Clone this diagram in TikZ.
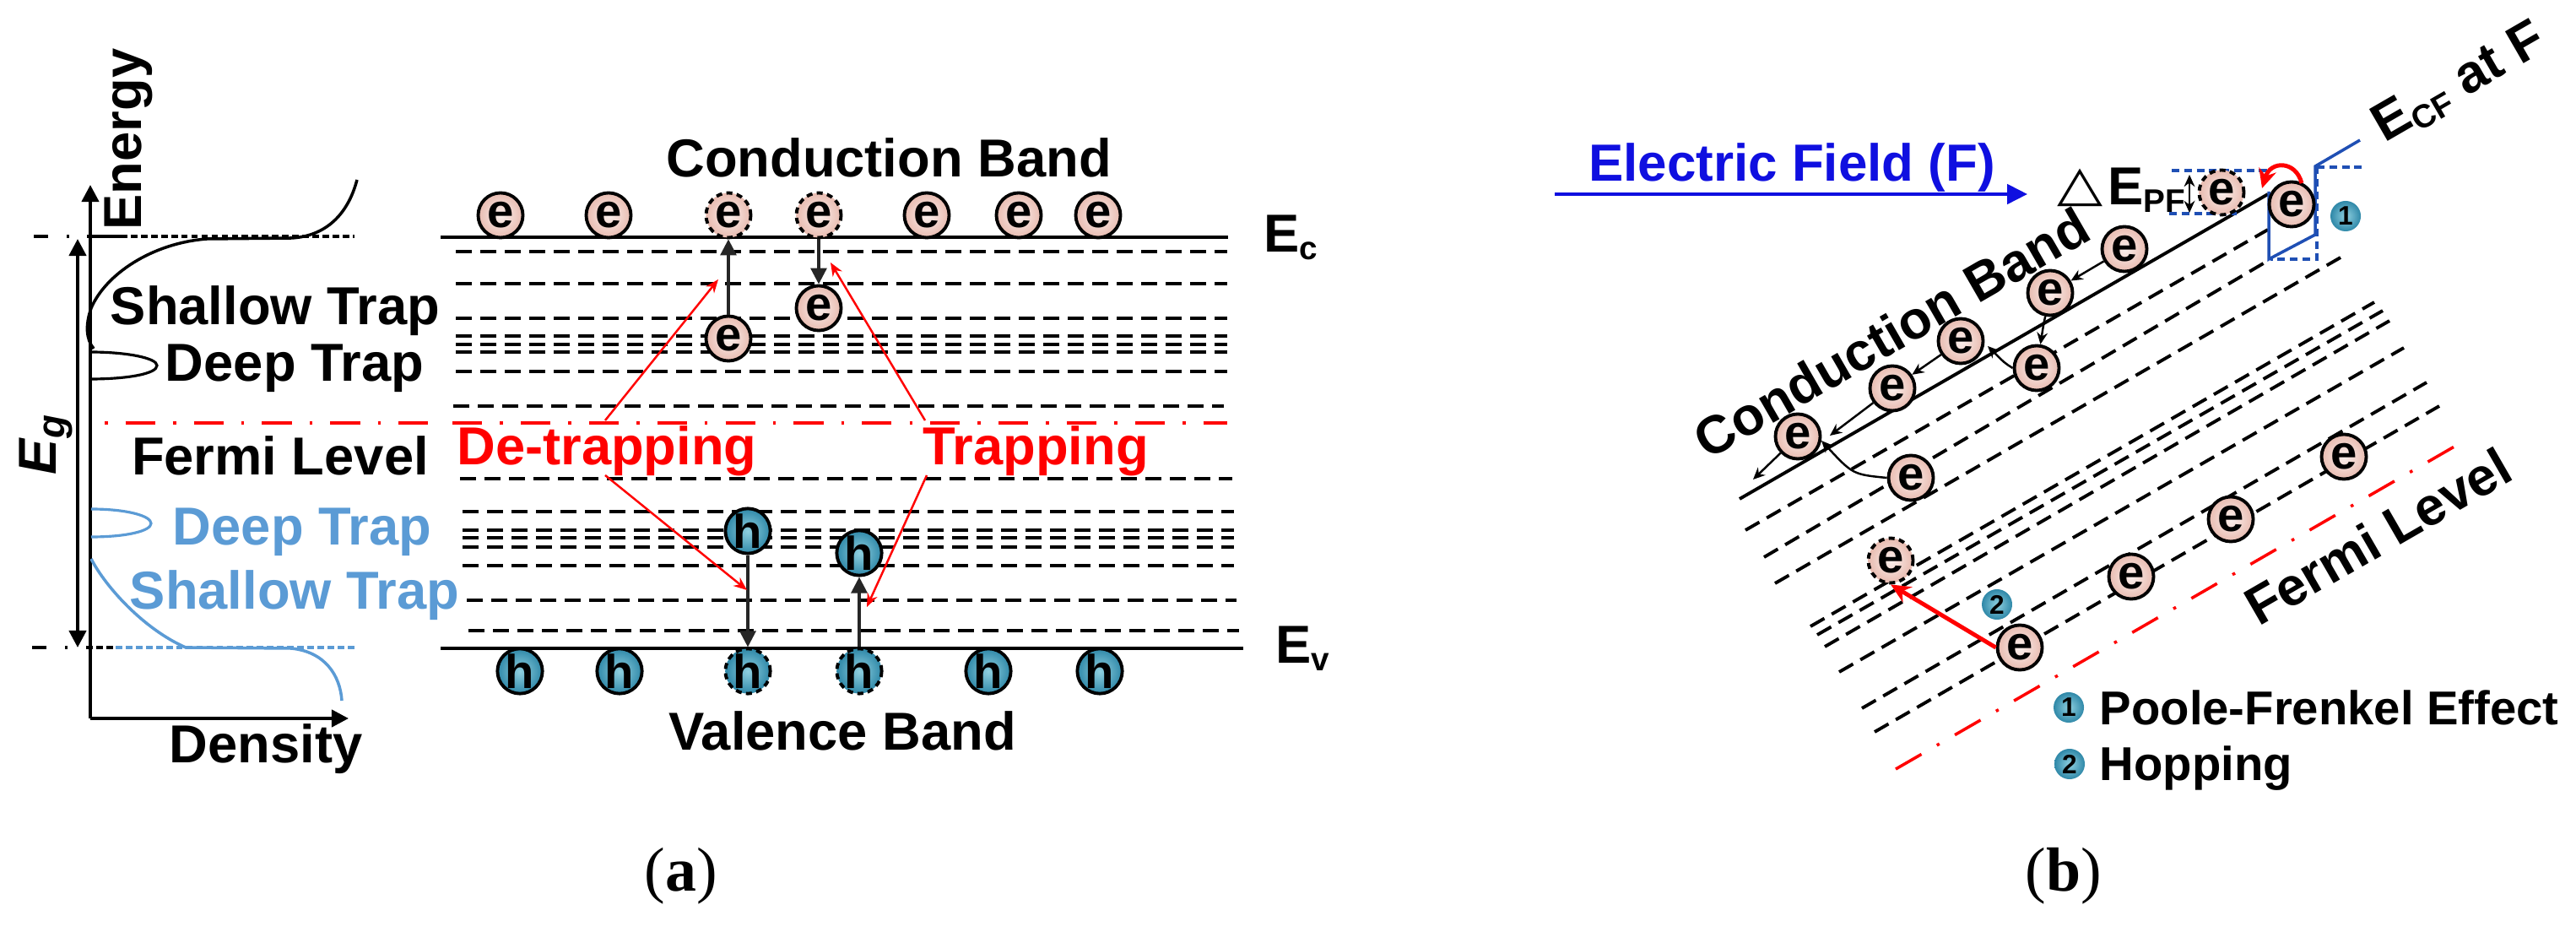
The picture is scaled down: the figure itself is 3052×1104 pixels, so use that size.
\documentclass[tikz,border=0pt]{standalone}
\usepackage{fontspec}
\setmainfont{Liberation Sans}
\newfontfamily\serifcap{Liberation Serif}
\newfontfamily\symfont{DejaVu Sans}
\usepackage{xcolor}
\usepackage{graphicx}
\usetikzlibrary{arrows.meta}
\definecolor{trapblue}{HTML}{5B9BD5}
\definecolor{fieldblue}{HTML}{0F0FE0}
\definecolor{wellblue}{HTML}{1F4FB4}
\definecolor{elecin}{HTML}{FBF0ED}
\definecolor{elecout}{HTML}{E8BBB0}
\definecolor{holein}{HTML}{8FD0E0}
\definecolor{holeout}{HTML}{2F88A8}
\newcommand{\subtext}[2][-2.5pt]{\raisebox{#1}{\fontsize{11}{11}\selectfont #2}}
\tikzset{lab/.style={font=\fontsize{18}{20}\selectfont\bfseries,inner sep=0pt,anchor=base},
    bluelab/.style={lab,text=trapblue},
    redlab/.style={lab,text=red},
    caplab/.style={font=\fontsize{21}{24}\selectfont\serifcap,inner sep=0pt},
    leglab/.style={lab,font=\fontsize{16}{18}\selectfont\bfseries,anchor=base west},
    elec/.style={circle,draw,line width=1.1pt,minimum size=0.53cm,inner sep=0pt,
        inner color=elecin,outer color=elecout,font=\fontsize{16}{16}\selectfont\bfseries},
    elecdash/.style={elec,dash pattern=on 2pt off 1.5pt},
    hole/.style={elec,inner color=holein,outer color=holeout},
    holedash/.style={hole,dash pattern=on 2pt off 1.5pt},
    badge/.style={circle,minimum size=0.36cm,inner sep=0pt,
        inner color=holein,outer color=holeout,font=\fontsize{9}{9}\selectfont\bfseries},
    level/.style={line width=1.1pt,dash pattern=on 5.4pt off 2.85pt},
    band/.style={line width=1.1pt},
    axis/.style={line width=1.2pt,-{Triangle[length=5.7pt,width=5.7pt]}},
    gaparrow/.style={line width=1.2pt,{Triangle[length=5.7pt,width=5.7pt]}-{Triangle[length=5.7pt,width=5.7pt]}},
    jump/.style={line width=0.9pt,draw=black!85,-{Triangle[length=5.4pt,width=5.4pt]}},
    redjump/.style={line width=0.7pt,red,-{Stealth[length=4.5pt,width=3.6pt]}},
    hopjump/.style={line width=0.7pt,-{Stealth[length=4pt,width=3.6pt]}},
    fermi/.style={red,line width=1pt,dash pattern=on 10pt off 6pt on 1pt off 6pt},
    edgeline/.style={line width=1pt,dash pattern=on 4.8pt off 6.4pt on 0.8pt off 6.4pt},
    fine/.style={line width=1pt,dash pattern=on 2.2pt off 1.2pt},
    well/.style={wellblue,line width=1pt},
    welldash/.style={wellblue,line width=1pt,dash pattern=on 2.6pt off 1.6pt}}

\begin{document}
\begin{tikzpicture}[x=0.01cm,y=-0.01cm]
\useasboundingbox (0,0) rectangle (3052,1104);
\fill[white] (0,0) rectangle (3052,1104);

\draw[axis] (107,851) -- (107,219);
\draw[axis] (107,851) -- (413,851);
\draw[gaparrow] (92,283) -- (92,767);
\draw[edgeline] (40,280) -- (103,280);
\draw[line width=1pt] (103,280) -- (143,280);
\draw[fine] (143,280) -- (420,280);
\draw[edgeline] (38,767) -- (102,767);
\draw[fine] (102,767) -- (137,767);
\draw[fine,trapblue] (137,767) -- (420,767);
\draw[line width=1pt] (423,213) .. controls (412,255) and (385,280) .. (345,282)
    -- (245,283) .. controls (180,288) and (125,325) .. (108,365)
    .. controls (101,385) and (102,402) .. (111,413);
\draw[line width=0.9pt] (107,417) .. controls (150,417) and (186,424) .. (186,433)
    .. controls (186,443) and (150,449) .. (107,449);
\draw[trapblue,line width=0.9pt] (108,603) .. controls (150,603) and (179,611) .. (179,620)
    .. controls (179,629) and (150,636) .. (108,636);
\draw[trapblue,line width=1pt] (108,662) .. controls (125,695) and (170,745) .. (220,767)
    -- (345,768) .. controls (385,772) and (403,800) .. (405,830);
\node[lab,rotate=90] (energy) at (167,165) {Energy};
\node[lab,rotate=90] (eg) at (66,527) {\itshape E\subtext[-3pt]{\fontsize{13}{13}\selectfont g}};
\node[lab] (shallowa) at (326,385) {Shallow Trap};
\node[lab] (deepa) at (349,452) {Deep Trap};
\node[lab] (fermia) at (332,563) {Fermi Level};
\node[bluelab] (deepb) at (358,646) {Deep Trap};
\node[bluelab] (shallowb) at (349,722) {Shallow Trap};
\node[lab] (density) at (315,903) {Density};

\draw[band] (522,281) -- (1455,281);
\draw[band] (522,768) -- (1473,768);
\foreach \y/\xa/\xb in {298/540/1454,336/540/1454,377/540/1454,398/540/1454,408/540/1454,
    417/540/1454,440/540/1454,481/537/1450,
    567/545/1460,606/548/1462,628/548/1462,637/548/1462,648/548/1462,670/548/1462,
    711/553/1465,747/555/1468}
    \draw[level] (\xa,\y) -- (\xb,\y);
\draw[fermi,dash phase=15.4pt] (122,501) -- (520,501);
\draw[fermi] (536,501) -- (1454,501);

\foreach \n/\x in {a/593,b/721,e/1098,f/1207,g/1301}
    \node[elec] (top\n) at (\x,255) {e};
\node[elecdash] (topc) at (863,255) {e};
\node[elecdash] (topd) at (970,255) {e};
\node[elec] (trapc) at (863,401) {e};
\node[elec] (trapd) at (970,365) {e};
\foreach \n/\x in {a/616,b/734,e/1171,f/1303}
    \node[hole] (low\n) at (\x,795) {h};
\node[holedash] (lowc) at (886,795) {h};
\node[holedash] (lowd) at (1018,795) {h};
\node[hole] (trapg) at (886,629) {h};
\node[hole] (traph) at (1018,655) {h};
\draw[jump] (trapc) -- (topc);
\draw[jump] (topd) -- (trapd);
\draw[jump] (trapg) -- (lowc);
\draw[jump] (lowd) -- (traph);

\node[redlab] (detrap) at (719,551) {De-trapping};
\node[redlab] (trapping) at (1227,551) {Trapping};
\draw[redjump] (717,498) -- (851,331);
\draw[redjump] (717,563) -- (885,699);
\draw[redjump] (1096,498) -- (984,311);
\draw[redjump] (1098,563) -- (1027,719);
\node[lab] (cbanda) at (1053,210) {Conduction Band};
\node[lab] (vbanda) at (998,888) {Valence Band};
\node[lab,anchor=base west] (ec) at (1497,299) {E\subtext{c}};
\node[lab,anchor=base west] (ev) at (1511,786) {E\subtext{v}};
\node[caplab] (capa) at (807,1038) {(\textbf{a})};

\draw[fieldblue,line width=1.1pt,-{Triangle[length=6.8pt,width=6.6pt]}] (1842,230) -- (2402,230);
\node[lab,text=fieldblue,font=\fontsize{17.6}{20}\selectfont\bfseries] (field) at (2123,215) {Electric Field (F)};
\node[lab,anchor=base west] (depf) at (2437,243) {\raisebox{1.5pt}{\scalebox{1}[.83]{\symfont\mdseries\fontsize{20}{20}\selectfont △}}\hspace{1.5pt}E\subtext{PF}};

\draw[band] (2061,591) -- (2687,230);
\foreach \xa/\ya/\xb/\yb in {2068/628/2687/272,2090/660/2685/310,2103/691/2773/305,
    2145/742/2813/358,2153/752/2823/368,2162/766/2831/380,
    2179/796/2848/412,2206/839/2875/453,2221/867/2890/481}
    \draw[level] (\xa,\ya) -- (\xb,\yb);
\draw[fermi] (2246,911) -- (2913,526);

\draw[welldash] (2573,202) -- (2687,202);
\draw[welldash] (2570,253) -- (2650,253);
\draw[welldash] (2745,198) -- (2798,198);
\draw[welldash] (2745,197) -- (2745,307) -- (2690,307);
\draw[well] (2688,227) -- (2688,307) -- (2743,278) -- (2743,197) -- (2796,166);

\foreach \n/\x/\y in {a/2130/517,b/2242/460,c/2323/404,d/2429/347,e/2517/295,
    f/2413/436,g/2264/566,h/2715/242,i/2393/767,j/2525/683,k/2643/615,l/2777/541}
    \node[elec] (ef\n) at (\x,\y) {e};
\node[elecdash] (efm) at (2632,228) {e};
\node[elecdash] (efn) at (2240,664) {e};

\coordinate (tipb) at (2168,516);
\coordinate (tipa) at (2077,568);
\coordinate (tipc) at (2355,410);
\coordinate (tipd) at (2158,522);
\draw[hopjump] (efe) -- (efd);
\draw[hopjump] (efd) .. controls (2421,385) .. (eff);
\draw[hopjump] (efc) -- (efb);
\draw[hopjump] (efb) -- (tipb);
\draw[hopjump] (efa) -- (tipa);
\draw[hopjump] (eff.west) .. controls (2375,430) .. (tipc);
\draw[hopjump] (efg.west) .. controls (2195,562) .. (tipd);
\draw[line width=0.7pt,{Stealth[length=4pt,width=3.6pt]}-{Stealth[length=4pt,width=3.6pt]}] (2594,207) -- (2594,252);
\draw[red,line width=1.4pt,-{Stealth[length=6.4pt,width=6pt]}] (2727,217) .. controls (2720,190) and (2690,190) .. (2680,223);
\draw[red,line width=1.4pt,-{Stealth[length=6.6pt,width=6pt]}] (efi.west) -- (efn.south);

\node[badge] (onea) at (2779,256) {1};
\node[badge] (twoa) at (2366,716) {2};
\node[badge] (oneb) at (2451,838) {1};
\node[badge] (twob) at (2452,905) {2};
\node[leglab] (poole) at (2487,858) {Poole-Frenkel Effect};
\node[leglab] (hop) at (2487,925) {Hopping};
\node[lab,anchor=center,rotate=30] (cbandb) at (2241,394) {Conduction Band};
\node[lab,anchor=center,rotate=30] (fermib) at (2817,635) {Fermi Level};
\node[lab,anchor=center,rotate=30] (ecf) at (2914,99) {E\subtext{CF} at F};
\node[caplab] (capb) at (2445,1038) {(\textbf{b})};
\end{tikzpicture}
\end{document}
